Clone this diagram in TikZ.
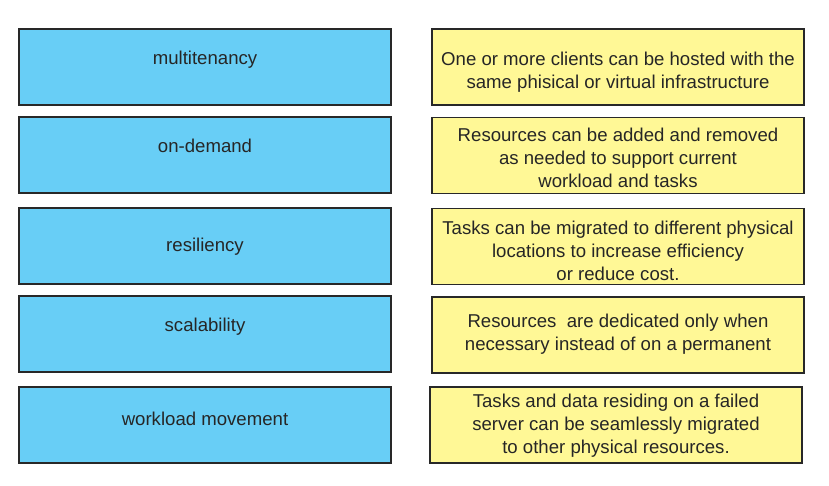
\documentclass[tikz,border=0pt]{standalone}
\usepackage{fontspec}
\setmainfont{Liberation Sans}
\definecolor{termblue}{RGB}{104,206,246}
\definecolor{defyellow}{RGB}{255,248,150}
\definecolor{edge}{RGB}{40,40,40}
\tikzset{
  term/.style={draw=edge, line width=1.2pt, fill=termblue, rectangle, inner sep=0pt,
    minimum width=372pt, minimum height=76pt},
  def/.style={draw=edge, line width=1.2pt, fill=defyellow, rectangle, inner sep=0pt,
    minimum width=372pt, minimum height=76pt},
  txt/.style={align=center, text=black!85, font=\fontsize{18.6}{23}\selectfont}
}
\begin{document}
\begin{tikzpicture}[x=1pt,y=-1pt]
    \useasboundingbox (0,0) rectangle (829,486);
    % left column
    \node[term] (multi) at (205,67) {};
    \node[term] (ondemand) at (205,155) {};
    \node[term] (resil) at (205,246) {};
    \node[term] (scal) at (205,334) {};
    \node[term] (move) at (205,425) {};
    \node[txt] (tmulti) at (205,60) {multitenancy};
    \node[txt] (tondemand) at (205,146) {on-demand};
    \node[txt] (tresil) at (205,247) {resiliency};
    \node[txt] (tscal) at (205,327) {scalability};
    \node[txt] (tmove) at (205,419) {workload movement};
    % right column
    \node[def] (d1) at (618,67) {};
    \node[def] (d2) at (618,155.5) {};
    \node[def] (d3) at (618,246.5) {};
    \node[def] (d4) at (618,335) {};
    \node[def] (d5) at (616,425) {};
    \node[txt] (td1) at (618,72) {One or more clients can be hosted with the\\same phisical or virtual infrastructure};
    \node[txt] (td2) at (618,158) {Resources can be added and removed\\as needed to support current\\workload and tasks};
    \node[txt] (td3) at (618,251) {Tasks can be migrated to different physical\\locations to increase efficiency\\or reduce cost.};
    \node[txt] (td4) at (618,334.5) {Resources\ \ are dedicated only when\\necessary instead of on a permanent};
    \node[txt] (td5) at (616,426) {Tasks and data residing on a failed\\server can be seamlessly migrated\\to other physical resources.};
\end{tikzpicture}
\end{document}
